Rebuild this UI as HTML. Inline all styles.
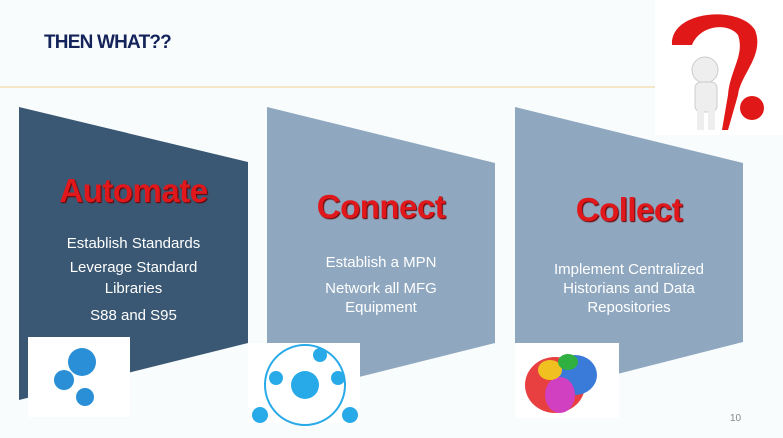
<!DOCTYPE html>
<html><head><style>
body{margin:0;width:783px;height:438px;overflow:hidden;background:#f8fcfd;font-family:"Liberation Sans",sans-serif;position:relative}
.t{position:absolute;color:#fff;text-align:center;font-size:15px;line-height:19px}
.h{position:absolute;color:#e0171b;font-weight:bold;text-align:center;font-size:33px;letter-spacing:-0.5px;text-shadow:1px 1px 1px #600}
</style></head><body>
<div style="position:absolute;left:0;top:86px;width:655px;height:2px;background:#f6e6c8"></div>
<div style="position:absolute;left:44px;top:32px;font-size:19px;font-weight:bold;color:#14235a;letter-spacing:-0.8px">THEN WHAT??</div>
<svg width="783" height="438" style="position:absolute;left:0;top:0">
<polygon points="19,107 248,162 248,343 19,400" fill="#3a5873"/>
<polygon points="267,107 495,163 495,343 267,400" fill="#8fa8c0"/>
<polygon points="515,107 743,163 743,342 515,400" fill="#8fa8c0"/>
<rect x="28" y="337" width="102" height="80" fill="#fff"/>
<circle cx="82" cy="362" r="14" fill="#2a8fd6"/><circle cx="64" cy="380" r="10" fill="#2a8fd6"/><circle cx="85" cy="397" r="9" fill="#2a8fd6"/>
<rect x="248" y="343" width="112" height="80" fill="#fff"/>
<circle cx="305" cy="385" r="40" fill="none" stroke="#29aae8" stroke-width="2"/>
<circle cx="305" cy="385" r="14" fill="#29aae8"/><circle cx="276" cy="378" r="7" fill="#29aae8"/><circle cx="338" cy="378" r="7" fill="#29aae8"/><circle cx="320" cy="355" r="7" fill="#29aae8"/><circle cx="260" cy="415" r="8" fill="#29aae8"/><circle cx="350" cy="415" r="8" fill="#29aae8"/>
<rect x="515" y="343" width="104" height="75" fill="#fff"/>
<ellipse cx="555" cy="385" rx="30" ry="28" fill="#e84040"/><ellipse cx="575" cy="375" rx="22" ry="20" fill="#3a7ad8"/><ellipse cx="560" cy="395" rx="15" ry="18" fill="#d040c0"/><ellipse cx="550" cy="370" rx="12" ry="10" fill="#f0c020"/><ellipse cx="568" cy="362" rx="10" ry="8" fill="#30b040"/>
<rect x="655" y="0" width="128" height="135" fill="#fff"/>
<path d="M672,45 C670,10 740,5 755,30 C765,55 740,75 738,95 L728,130 L722,130 L728,95 C730,70 745,55 738,35 C728,22 700,25 692,45 Z" fill="#e01818"/>
<circle cx="705" cy="70" r="13" fill="#eee" stroke="#ccc"/>
<rect x="695" y="82" width="22" height="30" rx="6" fill="#eee" stroke="#ccc"/>
<rect x="697" y="110" width="7" height="20" fill="#eee"/><rect x="708" y="110" width="7" height="20" fill="#eee"/>
<circle cx="752" cy="108" r="12" fill="#e01818"/>
</svg>
<div class="h" style="left:19px;width:229px;top:172px">Automate</div>
<div class="t" style="left:19px;width:229px;top:233px;line-height:21px">Establish Standards<br><span style="display:block;margin-top:3px">Leverage Standard<br>Libraries</span><span style="display:block;margin-top:6px">S88 and S95</span></div>
<div class="h" style="left:267px;width:228px;top:188px">Connect</div>
<div class="t" style="left:267px;width:228px;top:253px">Establish a MPN<br><span style="display:block;margin-top:7px">Network all MFG<br>Equipment</span></div>
<div class="h" style="left:515px;width:228px;top:191px">Collect</div>
<div class="t" style="left:515px;width:228px;top:260px">Implement Centralized<br>Historians and Data<br>Repositories</div>
<div style="position:absolute;left:730px;top:413px;font-size:10px;color:#888">10</div>
</body></html>
